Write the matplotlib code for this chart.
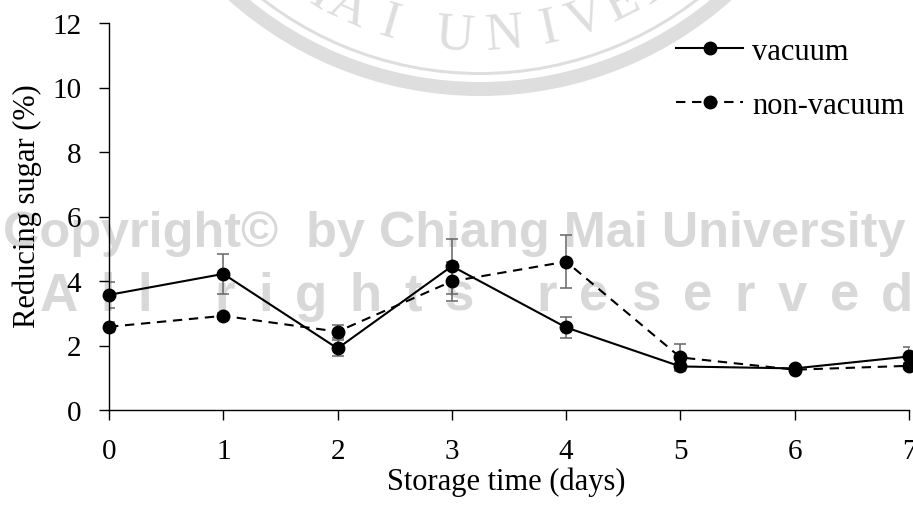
import math
import matplotlib
matplotlib.use("Agg")
import matplotlib.pyplot as plt
from matplotlib.patches import Wedge

days = [0, 1, 2, 3, 4, 5, 6, 7]
vacuum = [3.57, 4.22, 1.91, 4.46, 2.56, 1.35, 1.29, 1.66]
vacuum_err = [0.40, 0.61, 0.25, 0.85, 0.33, 0.10, 0.08, 0.28]
non_vacuum = [2.58, 2.92, 2.43, 3.99, 4.60, 1.63, 1.25, 1.37]
non_vacuum_err = [0.15, 0.10, 0.20, 0.60, 0.83, 0.41, 0.08, 0.10]
xticks = [0, 1, 2, 3, 4, 5, 6, 7]
yticks = [0, 2, 4, 6, 8, 10, 12]

plt.rcParams['font.family'] = ['Liberation Serif', 'DejaVu Serif']

W, H = 913, 510
fig = plt.figure(figsize=(W / 100, H / 100), dpi=100)

# ---------------- faint background watermark (pixel coordinates) ----------
bg = fig.add_axes([0, 0, 1, 1], zorder=-1)
bg.set_xlim(0, W)
bg.set_ylim(H, 0)
bg.axis('off')
seal_col = '#dedede'
wm_col = '#d8d8d8'
cx, cy = 480, -281
bg.add_patch(Wedge((cx, cy), 378, 0, 360, width=14, color=seal_col, lw=0))
bg.add_patch(Wedge((cx, cy), 357, 0, 360, width=3, color=seal_col, lw=0))
seal_letters = list("MAIUNIVER")
seal_angles = [-32.5, -24.5, -16.5, -4.5, 4.5, 12.5, 19.5, 26.5, 33.5]
for ch, ang in zip(seal_letters, seal_angles):
    a = math.radians(ang)
    bg.text(cx + 318 * math.sin(a), cy + 318 * math.cos(a), ch, fontsize=38,
            color=seal_col, ha='center', va='center', rotation=ang,
            rotation_mode='anchor', family=['Liberation Serif'])

sans = ['Liberation Sans Narrow', 'Liberation Sans', 'DejaVu Sans']
renderer = fig.canvas.get_renderer()
t = bg.text(3, 247, "Copyright\u00a9  by Chiang Mai University", fontsize=40,
            color=wm_col, ha='left', va='baseline', fontweight='bold',
            family=sans)
w = t.get_window_extent(renderer).width
t.set_fontsize(40 * 900 / w)

x = 40.0
for ch in "All rights reserved":
    if ch == ' ':
        x += 40
        continue
    tt = bg.text(x, 311, ch, fontsize=38, color=wm_col, ha='left',
                 va='baseline', fontweight='bold', family=sans)
    x += tt.get_window_extent(renderer).width + 22.5

# ---------------- main chart ----------------
ax = fig.add_axes([109 / W, 1 - 411 / H, 800 / W, 387 / H], zorder=1)
ax.patch.set_alpha(0)

ecol = '#666666'
ax.errorbar(days, vacuum, yerr=vacuum_err, fmt='none', ecolor=ecol,
            elinewidth=1.1, capsize=4, capthick=1.1, zorder=2)
ax.errorbar(days, non_vacuum, yerr=non_vacuum_err, fmt='none', ecolor=ecol,
            elinewidth=1.1, capsize=4, capthick=1.1, zorder=2)
ax.plot(days, vacuum, color='black', lw=1.5, marker='o', ms=9,
        label='vacuum', zorder=3, clip_on=False)
ax.plot(days, non_vacuum, color='black', lw=1.5, marker='o', ms=9,
        linestyle=(0, (4.5, 3.2)), label='non-vacuum', zorder=3, clip_on=False)

ax.set_xlim(0, 7)
ax.set_ylim(0, 12)
ax.set_xticks(xticks)
ax.set_yticks(yticks)
ax.tick_params(axis='both', labelsize=21, length=7, width=1.0, direction='out',
               color='black')
ax.tick_params(axis='x', pad=13)
ax.tick_params(axis='y', pad=13)
for s in ['top', 'right']:
    ax.spines[s].set_visible(False)
for s in ['left', 'bottom']:
    ax.spines[s].set_linewidth(1.0)

ax.set_xlabel('Storage time (days)', fontsize=22)
ax.set_ylabel('Reducing sugar (%)', fontsize=22)
ax.xaxis.set_label_coords(0.497, -0.145)
ax.yaxis.set_label_coords(-0.084, 0.53)

ax.legend(loc='upper left', bbox_to_anchor=(676 / W, 1 - 38 / H),
          bbox_transform=fig.transFigure, frameon=False, fontsize=22,
          handlelength=2.2, handletextpad=0.3, borderpad=0, borderaxespad=0,
          labelspacing=0.82)

fig.savefig('out.png', dpi=100)
